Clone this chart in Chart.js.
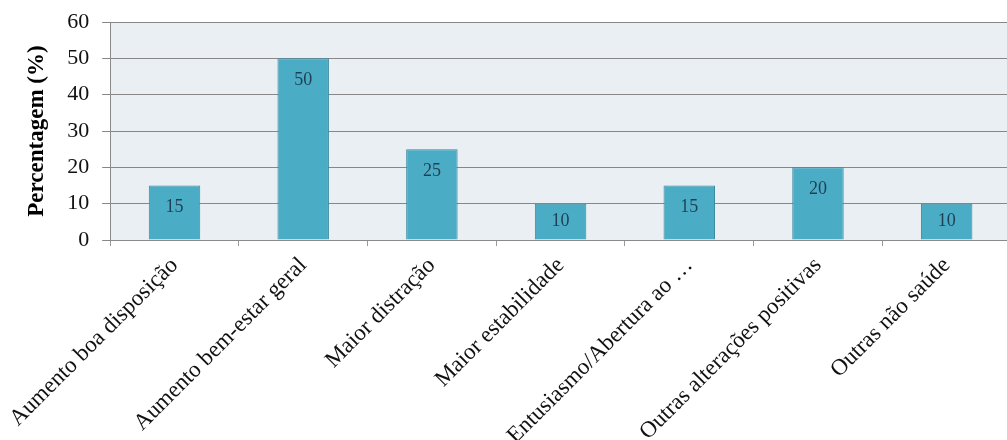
<!DOCTYPE html>
<html>
<head>
<meta charset="utf-8">
<script src="https://cdn.jsdelivr.net/npm/chart.js@4"></script>
<style>
  body { margin: 0; overflow: hidden; background: #fff; }
  #wrap { width: 1011px; height: 440px; }
</style>
</head>
<body>
<div id="wrap"><canvas id="myChart"></canvas></div>
<script>
const categories = [
  "Aumento boa disposição",
  "Aumento bem-estar geral",
  "Maior distração",
  "Maior estabilidade",
  "Entusiasmo/Abertura ao …",
  "Outras alterações positivas",
  "Outras não saúde"
];
const percentages = [15, 50, 25, 10, 15, 20, 10];
const yTicks = [0, 10, 20, 30, 40, 50, 60];

const serif = "'Liberation Serif', 'Times New Roman', serif";

// light panel behind the bars
const plotBackground = {
  id: "plotBackground",
  beforeDraw(chart) {
    const { ctx, chartArea } = chart;
    ctx.save();
    ctx.fillStyle = "#e9eff3";
    ctx.fillRect(chartArea.left, chartArea.top, chartArea.right - chartArea.left, chartArea.bottom - chartArea.top);
    ctx.restore();
  }
};

// values written inside the bars, near the top
const barValues = {
  id: "barValues",
  afterDatasetsDraw(chart) {
    const { ctx } = chart;
    const meta = chart.getDatasetMeta(0);
    ctx.save();
    ctx.font = "18px " + serif;
    ctx.fillStyle = "#1f3f52";
    ctx.textAlign = "center";
    ctx.textBaseline = "middle";
    meta.data.forEach((bar, i) => {
      const y = Math.min(bar.y + 22, (bar.y + bar.base) / 2);
      ctx.fillText(String(percentages[i]), bar.x, y);
    });
    ctx.restore();
  }
};

const ctx = document.getElementById("myChart").getContext("2d");

new Chart(ctx, {
  type: "bar",
  data: {
    labels: categories,
    datasets: [{
      data: percentages,
      backgroundColor: "#4bacc6",
      borderColor: "#3b8aa0",
      borderWidth: 1,
      barPercentage: 0.8,
      categoryPercentage: 0.5
    }]
  },
  options: {
    responsive: true,
    maintainAspectRatio: false,
    animation: false,
    layout: { padding: { top: 22, left: 0, right: 0, bottom: 0 } },
    plugins: {
      legend: { display: false },
      tooltip: { enabled: false }
    },
    scales: {
      x: {
        grid: {
          drawOnChartArea: false,
          drawTicks: true,
          tickLength: 6,
          color: "#999999"
        },
        border: { color: "#8a8a8a", width: 1 },
        ticks: {
          minRotation: 45,
          maxRotation: 45,
          autoSkip: false,
          padding: 6,
          color: "#111111",
          font: { family: serif, size: 23 }
        },
        afterFit(scale) { scale.height = 200; }
      },
      y: {
        min: 0,
        max: 60,
        afterBuildTicks(scale) {
          scale.ticks = yTicks.map(v => ({ value: v }));
        },
        grid: {
          color: "#878787",
          lineWidth: 1,
          tickLength: 8
        },
        border: { color: "#8a8a8a", width: 1 },
        ticks: {
          padding: 13,
          color: "#111111",
          font: { family: serif, size: 22 }
        },
        title: {
          display: true,
          text: "Percentagem (%)",
          color: "#000000",
          padding: { top: 21 },
          font: { family: serif, size: 23, weight: "bold" }
        },
        afterFit(scale) {
          scale.width = 108;
          scale.paddingTop = 0;
          scale.paddingBottom = 0;
        }
      }
    }
  },
  plugins: [plotBackground, barValues]
});
</script>
</body>
</html>
